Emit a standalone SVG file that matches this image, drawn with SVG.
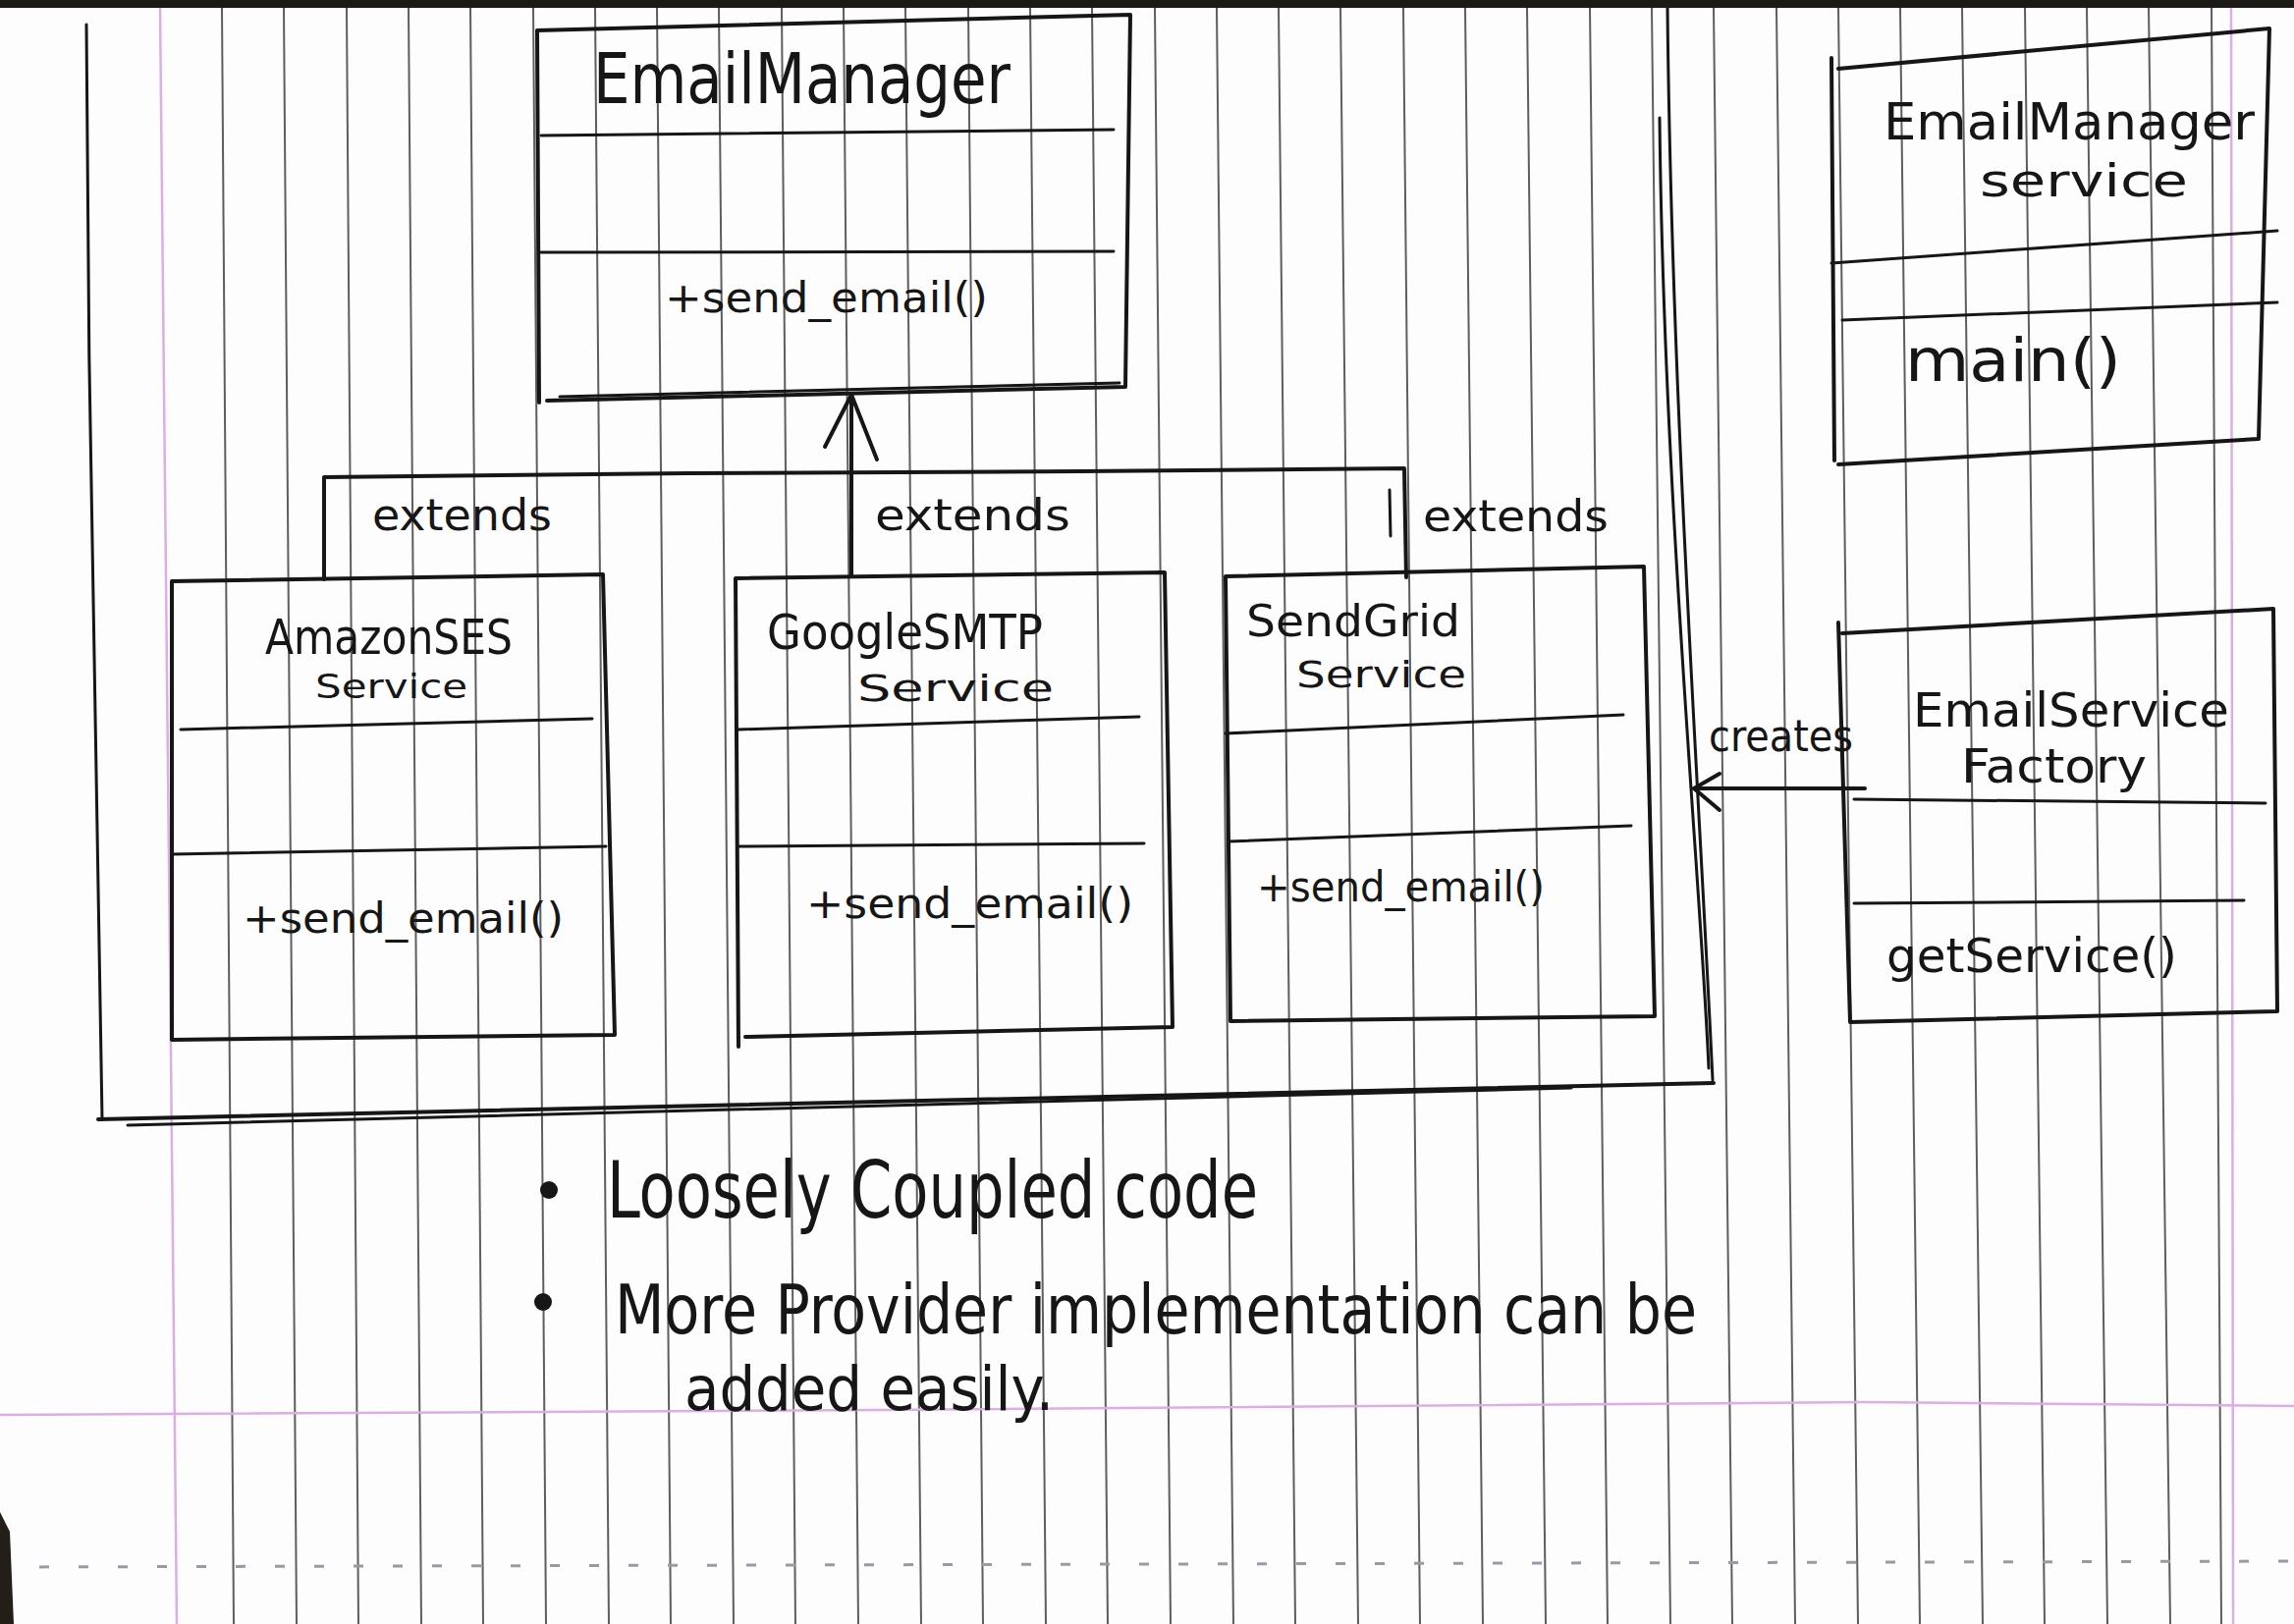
<svg xmlns="http://www.w3.org/2000/svg" width="2336" height="1654" viewBox="0 0 2336 1654">
<style>
.ink{fill:none;stroke:#161616;stroke-width:4;stroke-linecap:round;stroke-linejoin:round}
.thin{fill:none;stroke:#161616;stroke-width:3;stroke-linecap:round;stroke-linejoin:round}
.pl{stroke:#5e5e5e;stroke-width:2}
.pink{fill:none;stroke:#dcaee6;stroke-width:2.5}
text{font-family:"DejaVu Sans Condensed","DejaVu Sans","Liberation Sans",sans-serif;fill:#161616}
</style>
<rect x="0" y="0" width="2336" height="1654" fill="#fdfdfd"/>
<g id="paper">
<rect x="0" y="0" width="2336" height="8" fill="#1c1a16"/>
<g id="paper-lines">
<line class="pl" x1="226" y1="8" x2="238" y2="1654"/>
<line class="pl" x1="289" y1="8" x2="302" y2="1654"/>
<line class="pl" x1="353" y1="8" x2="365" y2="1654"/>
<line class="pl" x1="416" y1="8" x2="429" y2="1654"/>
<line class="pl" x1="479" y1="8" x2="492" y2="1654"/>
<line class="pl" x1="543" y1="8" x2="556" y2="1654"/>
<line class="pl" x1="606" y1="8" x2="620" y2="1654"/>
<line class="pl" x1="669" y1="8" x2="683" y2="1654"/>
<line class="pl" x1="732" y1="8" x2="747" y2="1654"/>
<line class="pl" x1="796" y1="8" x2="810" y2="1654"/>
<line class="pl" x1="859" y1="8" x2="874" y2="1654"/>
<line class="pl" x1="922" y1="8" x2="938" y2="1654"/>
<line class="pl" x1="986" y1="8" x2="1001" y2="1654"/>
<line class="pl" x1="1049" y1="8" x2="1065" y2="1654"/>
<line class="pl" x1="1112" y1="8" x2="1128" y2="1654"/>
<line class="pl" x1="1176" y1="8" x2="1192" y2="1654"/>
<line class="pl" x1="1239" y1="8" x2="1256" y2="1654"/>
<line class="pl" x1="1302" y1="8" x2="1319" y2="1654"/>
<line class="pl" x1="1365" y1="8" x2="1383" y2="1654"/>
<line class="pl" x1="1429" y1="8" x2="1446" y2="1654"/>
<line class="pl" x1="1492" y1="8" x2="1510" y2="1654"/>
<line class="pl" x1="1555" y1="8" x2="1574" y2="1654"/>
<line class="pl" x1="1619" y1="8" x2="1637" y2="1654"/>
<line class="pl" x1="1682" y1="8" x2="1701" y2="1654"/>
<line class="pl" x1="1745" y1="8" x2="1764" y2="1654"/>
<line class="pl" x1="1809" y1="8" x2="1828" y2="1654"/>
<line class="pl" x1="1872" y1="8" x2="1892" y2="1654"/>
<line class="pl" x1="1935" y1="8" x2="1955" y2="1654"/>
<line class="pl" x1="1998" y1="8" x2="2019" y2="1654"/>
<line class="pl" x1="2062" y1="8" x2="2082" y2="1654"/>
<line class="pl" x1="2125" y1="8" x2="2146" y2="1654"/>
<line class="pl" x1="2188" y1="8" x2="2210" y2="1654"/>
<line class="pl" x1="2252" y1="8" x2="2262" y2="1654"/>
</g>
<line class="pink" x1="163" y1="8" x2="180" y2="1654"/>
<line class="pink" x1="2272" y1="8" x2="2274" y2="1654"/>
<path class="pink" d="M0,1441 L900,1436 L1900,1428 L2336,1432"/>
<line x1="0" y1="1596" x2="2336" y2="1590" stroke="#9a9aa6" stroke-width="3" stroke-dasharray="10,30"/>
<path d="M0,1540 L10,1560 L14,1654 L0,1654 Z" fill="#241e18"/>
</g>
<g id="package-frame">
<path class="thin" d="M88,25 C90,400 96,800 104,1140"/>
<path class="ink" d="M100,1140 C500,1128 1100,1118 1745,1103"/>
<path class="thin" d="M130,1146 C500,1132 1000,1122 1600,1108"/>
<path class="thin" d="M1698,8 C1702,400 1730,800 1744,1100"/>
<path class="thin" d="M1690,120 C1694,500 1732,900 1740,1088"/>
</g>
<g id="connectors">
<path class="ink" d="M867,585 L867,402"/>
<path class="ink" d="M840,455 L867,402 L893,468"/>
<path class="ink" d="M330,590 L330,486 L700,482 L1100,480 L1430,477 L1432,588"/>
<path class="thin" d="M1415,499 L1416,546"/>
<path class="ink" d="M1899,803 L1725,803"/>
<path class="ink" d="M1751,788 L1725,803 L1751,825"/>
<text x="379" y="540" font-size="44" textLength="183" lengthAdjust="spacingAndGlyphs">extends</text>
<text x="891" y="540" font-size="44" textLength="199" lengthAdjust="spacingAndGlyphs">extends</text>
<text x="1449" y="541" font-size="44" textLength="189" lengthAdjust="spacingAndGlyphs">extends</text>
<text x="1740" y="765" font-size="44" textLength="147" lengthAdjust="spacingAndGlyphs">creates</text>
</g>
<g id="EmailManager">
<path class="ink" d="M547,31 L1151,15 L1146,394 L557,408 M549,410 L547,31"/>
<path class="thin" d="M570,404 L1140,390"/>
<path class="thin" d="M551,138 L1134,132"/>
<path class="thin" d="M551,257 L1134,256"/>
<text x="604" y="105" font-size="72" textLength="425" lengthAdjust="spacingAndGlyphs">EmailManager</text>
<text x="677" y="318" font-size="42" textLength="329" lengthAdjust="spacingAndGlyphs">+send_email()</text>
</g>
<g id="AmazonSESService">
<path class="ink" d="M175,592 L614,585 L626,1054 L175,1059 Z"/>
<path class="thin" d="M184,743 L603,732"/>
<path class="thin" d="M175,870 L617,862"/>
<text x="270" y="666" font-size="50" textLength="252" lengthAdjust="spacingAndGlyphs">AmazonSES</text>
<text x="321" y="711" font-size="34" textLength="155" lengthAdjust="spacingAndGlyphs">Service</text>
<text x="247" y="950" font-size="42" textLength="327" lengthAdjust="spacingAndGlyphs">+send_email()</text>
</g>
<g id="GoogleSMTPService">
<path class="ink" d="M749,589 L1186,583 L1194,1046 L759,1056 M752,1066 L749,589"/>
<path class="thin" d="M752,743 L1160,730"/>
<path class="thin" d="M752,862 L1165,859"/>
<text x="781" y="661" font-size="50" textLength="281" lengthAdjust="spacingAndGlyphs">GoogleSMTP</text>
<text x="873" y="714" font-size="38" textLength="200" lengthAdjust="spacingAndGlyphs">Service</text>
<text x="821" y="935" font-size="42" textLength="333" lengthAdjust="spacingAndGlyphs">+send_email()</text>
</g>
<g id="SendGridService">
<path class="ink" d="M1248,587 L1674,577 L1685,1035 L1253,1040 Z"/>
<path class="thin" d="M1248,747 L1653,728"/>
<path class="thin" d="M1251,857 L1661,841"/>
<text x="1269" y="648" font-size="44" textLength="218" lengthAdjust="spacingAndGlyphs">SendGrid</text>
<text x="1320" y="700" font-size="38" textLength="173" lengthAdjust="spacingAndGlyphs">Service</text>
<text x="1280" y="918" font-size="42" textLength="293" lengthAdjust="spacingAndGlyphs">+send_email()</text>
</g>
<g id="EmailManagerService">
<path class="ink" d="M1872,70 L2311,29 L2300,447 L1872,473 M1868,469 L1865,59"/>
<path class="thin" d="M1865,268 L2319,235"/>
<path class="thin" d="M1876,326 L2319,308"/>
<text x="1918" y="142" font-size="52" textLength="378" lengthAdjust="spacingAndGlyphs">EmailManager</text>
<text x="2016" y="200" font-size="46" textLength="212" lengthAdjust="spacingAndGlyphs">service</text>
<text x="1940" y="388" font-size="60" textLength="220" lengthAdjust="spacingAndGlyphs">main()</text>
</g>
<g id="EmailServiceFactory">
<path class="ink" d="M1876,645 L2315,620 L2319,1030 L1884,1041 L1872,634"/>
<path class="thin" d="M1888,814 L2307,818"/>
<path class="thin" d="M1888,920 L2285,917"/>
<text x="1948" y="740" font-size="48" textLength="322" lengthAdjust="spacingAndGlyphs">EmailService</text>
<text x="1997" y="797" font-size="48" textLength="189" lengthAdjust="spacingAndGlyphs">Factory</text>
<text x="1921" y="990" font-size="48" textLength="296" lengthAdjust="spacingAndGlyphs">getService()</text>
</g>
<g id="notes">
<circle cx="559" cy="1212" r="9" fill="#161616"/>
<circle cx="553" cy="1326" r="9" fill="#161616"/>
<text x="618" y="1240" font-size="80" textLength="663" lengthAdjust="spacingAndGlyphs">Loosely Coupled code</text>
<text x="626" y="1358" font-size="70" textLength="1102" lengthAdjust="spacingAndGlyphs">More Provider implementation can be</text>
<text x="697" y="1436" font-size="62" textLength="376" lengthAdjust="spacingAndGlyphs">added easily.</text>
</g>
</svg>
